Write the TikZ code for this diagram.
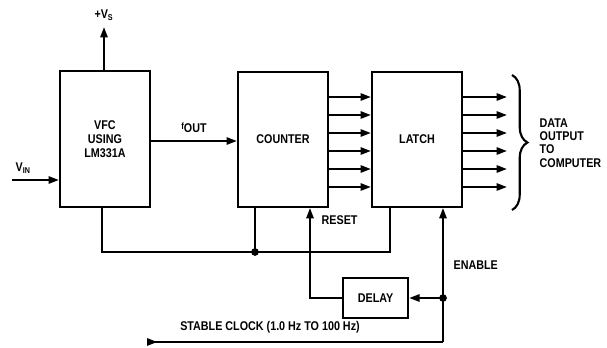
\documentclass[tikz,border=0pt]{standalone}
\usepackage{fontspec}
\setmainfont[FakeStretch=0.85]{Liberation Sans}
\usetikzlibrary{arrows.meta,calc,decorations.pathreplacing}
\tikzset{blk/.style={draw,line width=1.5pt,align=center,inner sep=2pt,font=\fontsize{9}{10}\selectfont\bfseries},
  arr/.style={-{Triangle[length=2.6mm,width=1.8mm]},line width=1.5pt},
  wire/.style={line width=1.5pt},
  lbl/.style={font=\fontsize{9}{9.5}\selectfont\bfseries,inner sep=1pt,align=left},
  dot/.style={circle,fill,inner sep=0pt,minimum size=5.5pt}}

\begin{document}
\begin{tikzpicture}
\useasboundingbox (0,0) rectangle (15.175,8.675);
\node[blk,minimum width=2.25cm,minimum height=3.4cm] (vfc) at (2.625,5.2) {VFC\\USING\\LM331A};
\node[blk,minimum width=2.25cm,minimum height=3.375cm] (cnt) at (7.075,5.19) {COUNTER};
\node[blk,minimum width=2.25cm,minimum height=3.375cm] (lat) at (10.425,5.19) {LATCH};
\node[blk,minimum width=1.625cm,minimum height=1cm] (dly) at (9.39,1.225) {DELAY};
% inputs and supply
\coordinate (vs) at (2.6,8.0);
\coordinate (vin) at (0.3,4.175);
\draw[arr] (vfc.north -| vs) -- (vs) node[lbl,above=3pt] (vsl) {+V\textsubscript{S}};
\draw[arr] (vin) -- (vfc.west |- vin);
\node[lbl,anchor=south west] (vinl) at (0.35,4.3) {V\textsubscript{IN}};
\draw[arr] (vfc.east |- 0,5.15) -- (cnt.west |- 0,5.15) node[lbl,pos=0.5,above=4pt] (fout) {\raisebox{2pt}{\fontsize{6.5}{7}\selectfont f}OUT};
% data bus
\foreach \y in {6.25,5.8,5.35,4.9,4.45,4.0}{
  \draw[arr] (cnt.east |- 0,\y) -- (lat.west |- 0,\y);
  \draw[arr] (lat.east |- 0,\y) -- (12.675,\y);
}
\draw[decorate,decoration={brace,amplitude=11pt,aspect=0.5},wire] (12.8,6.8) -- (12.8,3.425);
\node[lbl,anchor=west] (dout) at (13.45,5.1) {DATA\\OUTPUT\\TO\\COMPUTER};
% reset and enable
\coordinate (j1) at (6.375,2.375);
\coordinate (j2) at (11.075,1.225);
\coordinate (clk) at (3.675,0.125);
\draw[wire] (vfc.south -| 2.55,0) |- (j1) -| (lat.south -| 9.75,0);
\draw[wire] (cnt.south -| j1) -- (j1);
\node[dot] at (j1) {};
\draw[arr] (dly.west) -| (cnt.south -| 7.75,0);
\node[lbl,anchor=west] (rst) at (8.0,3.17) {RESET};
\draw[arr] (j2) -- (dly.east);
\node[dot] at (j2) {};
\draw[arr] (j2 |- clk) -- (lat.south -| j2);
\node[lbl,anchor=west] (enl) at (11.3,2.05) {ENABLE};
\draw[{Triangle[length=2.6mm,width=1.8mm,reversed]}-,line width=1.5pt] (clk) -- (j2 |- clk);
\node[lbl] (clkl) at (6.75,0.5) {STABLE CLOCK (1.0 Hz TO 100 Hz)};
\end{tikzpicture}
\end{document}
